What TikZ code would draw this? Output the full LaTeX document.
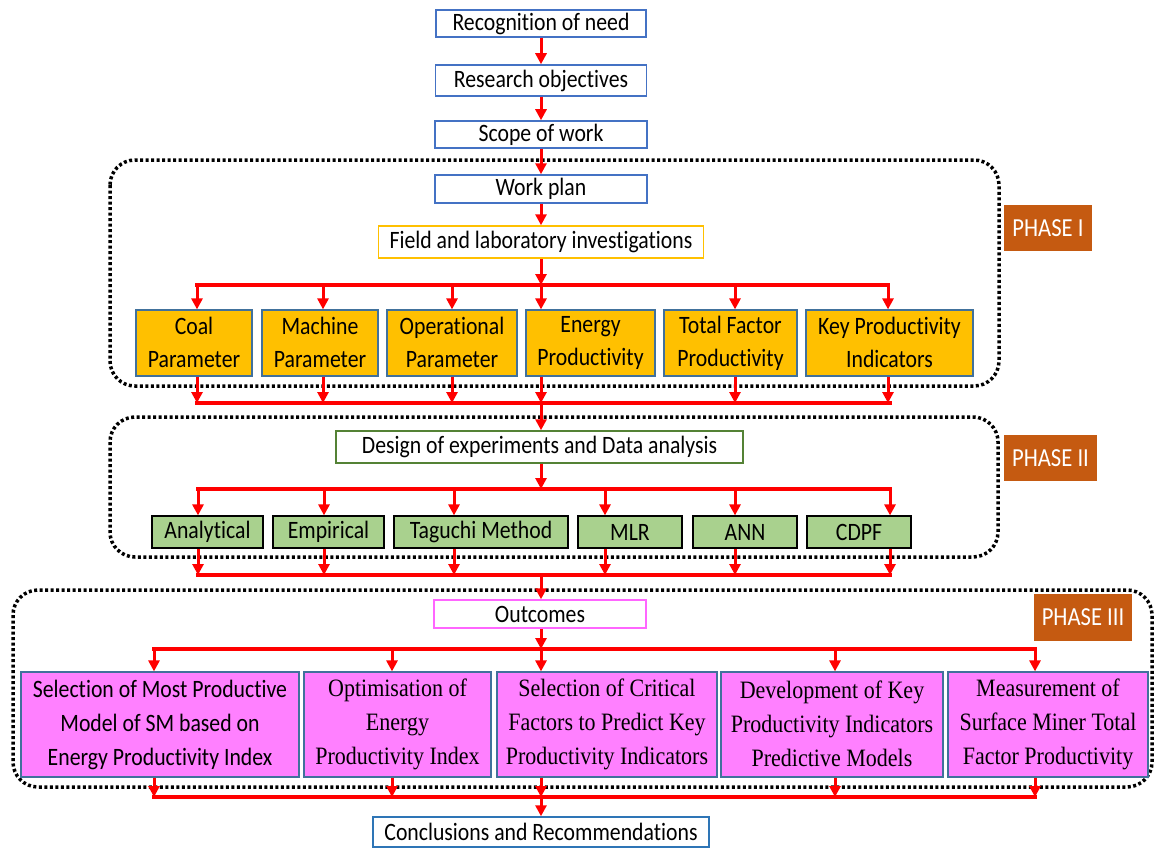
\documentclass[tikz,border=0pt]{standalone}
\usepackage{fontspec}
\setmainfont[FakeStretch=0.87,Ligatures=NoCommon]{Carlito}
\newfontfamily\tnr[FakeStretch=0.88]{Liberation Serif}
\usetikzlibrary{arrows.meta}
\definecolor{boxblue}{HTML}{4472C4}
\definecolor{conblue}{HTML}{2E75B6}
\definecolor{edgeblue}{HTML}{41719C}
\definecolor{fieldorange}{HTML}{FFC000}
\definecolor{parorange}{HTML}{FFC000}
\definecolor{doegreen}{HTML}{548235}
\definecolor{metgreen}{HTML}{A9D18E}
\definecolor{outpink}{HTML}{FF66FF}
\definecolor{respink}{HTML}{FF80FF}
\definecolor{phasebrown}{HTML}{C55A11}

\begin{document}
\begin{tikzpicture}[x=1pt,y=-1pt,
  every node/.style={inner sep=0pt,align=center,font=\fontsize{25}{33}\selectfont},
  topbox/.style={draw=boxblue,line width=1.5pt,fill=white},
  parbox/.style={draw=edgeblue,line width=1.2pt,fill=parorange,minimum height=66pt,
    execute at begin node={\rule[-2pt]{0pt}{28pt}},execute at end node={\rule[-2pt]{0pt}{28pt}}},
  metbox/.style={draw=black,line width=1.2pt,fill=metgreen,minimum height=32pt},
  resbox/.style={draw=edgeblue,line width=1.2pt,fill=respink,minimum height=105pt,font=\tnr\fontsize{25}{34}\selectfont,
    execute at begin node={\rule[-2pt]{0pt}{28pt}},execute at end node={\rule[-2pt]{0pt}{28pt}}},
  phaselbl/.style={fill=phasebrown,text=white,font=\fontsize{26}{30}\selectfont},
  dotbox/.style={draw=black,line width=3.5pt,dash pattern=on 3pt off 2.5pt,rounded corners=25pt},
  arr/.style={draw=red,line width=3pt,-{Triangle[length=11pt,width=11pt]}},
  rline/.style={draw=red,line width=3.5pt,line cap=rect}]
\useasboundingbox (0,0) rectangle (1155,848);

\draw[dotbox] (110,160) rectangle (999,386);
\draw[dotbox] (110,417) rectangle (998,557);
\draw[dotbox] (13,590) rectangle (1152,787);

\node[topbox,minimum width=210pt,minimum height=27pt] (need) at (541,23.5) {Recognition of need};
\node[topbox,minimum width=211pt,minimum height=31pt] (obj) at (541,80.5) {Research objectives};
\node[topbox,minimum width=212pt,minimum height=27pt] (scope) at (541,134.5) {Scope of work};
\node[topbox,minimum width=212pt,minimum height=28pt] (plan) at (541,189) {Work plan};
\node[topbox,draw=fieldorange,minimum width=325pt,minimum height=32pt] (field) at (541,242) {Field and laboratory investigations};

\node[parbox,minimum width=116pt] (coal) at (194,343) {Coal\\Parameter};
\node[parbox,minimum width=116pt] (mach) at (320,343) {Machine\\Parameter};
\node[parbox,minimum width=130pt] (oper) at (452,343) {Operational\\Parameter};
\node[parbox,minimum width=129pt] (ener) at (590.5,343) {Energy\\Productivity};
\node[parbox,minimum width=133pt] (tfp) at (730.5,343) {Total Factor\\Productivity};
\node[parbox,minimum width=167pt] (kpi) at (889.5,343) {Key Productivity\\Indicators};

\node[topbox,draw=doegreen,minimum width=407pt,minimum height=32pt] (doe) at (539.5,447) {Design of experiments and Data analysis};

\node[metbox,minimum width=111pt] (ana) at (207.5,532) {Analytical};
\node[metbox,minimum width=111pt] (emp) at (328.5,532) {Empirical};
\node[metbox,minimum width=174pt] (tag) at (481,532) {Taguchi Method};
\node[metbox,minimum width=104pt] (mlr) at (630,532) {MLR};
\node[metbox,minimum width=104pt] (ann) at (745,532) {ANN};
\node[metbox,minimum width=104pt] (cdpf) at (859,532) {CDPF};

\node[topbox,draw=outpink,minimum width=212pt,minimum height=28pt] (out) at (540,614) {Outcomes};

\node[resbox,minimum width=278pt,font=\fontsize{25}{34}\selectfont] (sel) at (160,724.5) {Selection of Most Productive\\Model of SM based on\\Energy Productivity Index};
\node[resbox,minimum width=187pt] (opt) at (397.5,724.5) {Optimisation of\\Energy\\Productivity Index};
\node[resbox,minimum width=220pt] (crit) at (607,724.5) {Selection of Critical\\Factors to Predict Key\\Productivity Indicators};
\node[resbox,minimum width=222pt] (dev) at (832,724.5) {Development of Key\\Productivity Indicators\\Predictive Models};
\node[resbox,minimum width=200pt] (meas) at (1048,724.5) {Measurement of\\Surface Miner Total\\Factor Productivity};

\node[topbox,draw=conblue,minimum width=336pt,minimum height=30pt] (concl) at (541,832) {Conclusions and Recommendations};

\node[phaselbl,minimum width=88pt,minimum height=46pt] (ph1) at (1048,228) {PHASE I};
\node[phaselbl,minimum width=93pt,minimum height=46pt] (ph2) at (1050.5,458) {PHASE II};
\node[phaselbl,minimum width=98pt,minimum height=47pt] (ph3) at (1083,617.5) {PHASE III};

\coordinate (j1) at (541,285);
\coordinate (k1) at (541,403);
\coordinate (j2) at (541,489);
\coordinate (k2) at (541,575);
\coordinate (j3) at (541,649);
\coordinate (k3) at (541,797);

\draw[arr] (need) -- (obj);
\draw[arr] (obj) -- (scope);
\draw[arr] (scope) -- (plan);
\draw[arr] (plan) -- (field);

\draw[rline] (197,0 |- j1) -- (888,0 |- j1);
\draw[rline] (197,0 |- k1) -- (890,0 |- k1);
\draw[arr] (field) -- (j1);
\foreach \n/\x in {coal/197,mach/323,oper/452,ener/541,tfp/735,kpi/888}{
  \draw[arr] (\x,0 |- j1) -- (\x,0 |- \n.north);
  \draw[arr] (\x,0 |- \n.south) -- (\x,0 |- k1);
}
\draw[arr] (k1) -- (k1 |- doe.north);

\draw[rline] (198,0 |- j2) -- (890,0 |- j2);
\draw[rline] (198,0 |- k2) -- (890,0 |- k2);
\draw[arr] (j2 |- doe.south) -- (j2);
\foreach \n/\x in {ana/198,emp/324,tag/454,mlr/605,ann/735,cdpf/890}{
  \draw[arr] (\x,0 |- j2) -- (\x,0 |- \n.north);
  \draw[arr] (\x,0 |- \n.south) -- (\x,0 |- k2);
}
\draw[arr] (k2) -- (k2 |- out.north);

\draw[rline] (154,0 |- j3) -- (1035,0 |- j3);
\draw[rline] (154,0 |- k3) -- (1035,0 |- k3);
\draw[arr] (j3 |- out.south) -- (j3);
\foreach \n/\x in {sel/154,opt/392,crit/541,dev/835,meas/1035}{
  \draw[arr] (\x,0 |- j3) -- (\x,0 |- \n.north);
  \draw[arr] (\x,0 |- \n.south) -- (\x,0 |- k3);
}
\draw[arr] (k3) -- (k3 |- concl.north);
\end{tikzpicture}
\end{document}
